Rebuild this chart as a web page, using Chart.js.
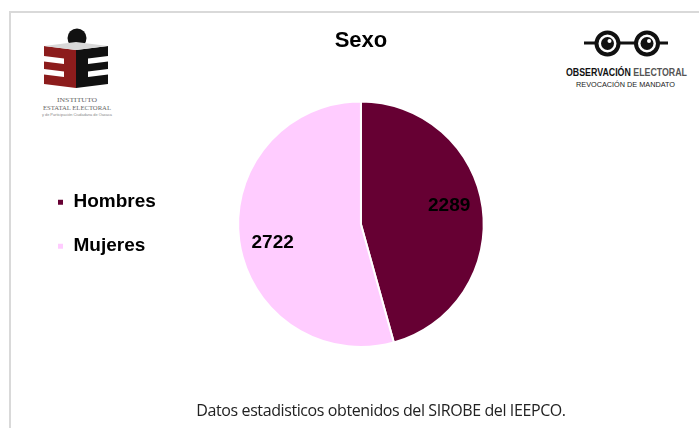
<!DOCTYPE html>
<html>
<head>
<meta charset="utf-8">
<script src="https://cdn.jsdelivr.net/npm/chart.js@4/dist/chart.umd.min.js"></script>
<style>
  html, body { margin:0; padding:0; background:#fff; }
  body { width:699px; height:428px; position:relative; overflow:hidden; font-family: Arial, "Liberation Sans", sans-serif; }
  #frame { position:absolute; left:9px; top:11px; width:720px; height:460px; border-left:2px solid #d9d9d9; border-top:2px solid #d9d9d9; }
  #wrap { position:absolute; left:23px; top:0; width:676px; height:428px; }
  #note { position:absolute; left:0; width:762px; top:399px; text-align:center; font-family:"Open Sans", "Noto Sans", sans-serif; font-size:16px; color:#222; letter-spacing:-0.4px; }
  svg { position:absolute; }
</style>
</head>
<body>
<div id="frame"></div>

<svg id="logoL" style="left:30px;top:20px" width="100" height="100" viewBox="30 20 100 100">
  <circle cx="77" cy="38" r="9.5" fill="#111"/>
  <polygon points="44,46 76,50 76,88 44,84" fill="#8c1c1c"/>
  <polygon points="76,50 108,46 108,84 76,88" fill="#111"/>
  <polygon points="44,46 76,42 108,46 76,50" fill="#d8d8d8"/>
  <polygon points="44,56 64,58.5 64,64 44,61.5" fill="#fff"/>
  <polygon points="44,69 64,71.5 64,77 44,74.5" fill="#fff"/>
  <polygon points="108,56 88,58.5 88,64 108,61.5" fill="#fff"/>
  <polygon points="108,69 88,71.5 88,77 108,74.5" fill="#fff"/>
  <text x="77" y="102" text-anchor="middle" font-family="Liberation Serif, serif" font-size="7" fill="#666" textLength="40" lengthAdjust="spacingAndGlyphs">INSTITUTO</text>
  <text x="77" y="110" text-anchor="middle" font-family="Liberation Serif, serif" font-size="7" fill="#666" textLength="68" lengthAdjust="spacingAndGlyphs">ESTATAL ELECTORAL</text>
  <text x="77" y="116" text-anchor="middle" font-family="Liberation Sans, sans-serif" font-size="3.5" fill="#888" textLength="70" lengthAdjust="spacingAndGlyphs">y de Participación Ciudadana de Oaxaca</text>
</svg>

<svg id="logoR" style="left:560px;top:20px" width="139" height="75" viewBox="560 20 139 75">
  <line x1="584" y1="43" x2="668" y2="43" stroke="#111" stroke-width="3"/>
  <circle cx="607.5" cy="43.5" r="11" fill="#fff" stroke="#111" stroke-width="4"/>
  <circle cx="647" cy="43.5" r="11" fill="#fff" stroke="#111" stroke-width="4"/>
  <circle cx="607.5" cy="43.5" r="6.5" fill="#111"/>
  <circle cx="647" cy="43.5" r="6.5" fill="#111"/>
  <circle cx="609.5" cy="41" r="2" fill="#fff"/>
  <circle cx="649" cy="41" r="2" fill="#fff"/>
  <text x="566" y="76" font-family="Liberation Sans Narrow, Liberation Sans, sans-serif" font-weight="bold" font-size="11" textLength="121" lengthAdjust="spacingAndGlyphs"><tspan fill="#111">OBSERVACIÓN </tspan><tspan fill="#555">ELECTORAL</tspan></text>
  <text x="576" y="87" font-family="Liberation Sans Narrow, Liberation Sans, sans-serif" font-size="8" fill="#222" textLength="99" lengthAdjust="spacingAndGlyphs">REVOCACIÓN DE MANDATO</text>
</svg>

<div id="wrap"><canvas id="c" width="676" height="428"></canvas></div>
<div id="note">Datos estadisticos obtenidos del SIROBE del IEEPCO.</div>

<script>
const title = "Sexo";
const categories = ["Hombres", "Mujeres"];
const values = [2289, 2722];
const colors = ["#660033", "#FFCCFF"];

const sliceLabels = {
  id: 'sliceLabels',
  afterDatasetsDraw(chart) {
    const ctx = chart.ctx;
    const meta = chart.getDatasetMeta(0);
    ctx.save();
    ctx.font = 'bold 19px Arial, "Liberation Sans", sans-serif';
    ctx.fillStyle = '#000';
    ctx.textAlign = 'center';
    ctx.textBaseline = 'middle';
    meta.data.forEach((arc, i) => {
      const p = arc.getProps(['x','y','startAngle','endAngle','outerRadius'], true);
      const mid = (p.startAngle + p.endAngle) / 2 - 0.075;
      const r = p.outerRadius * 0.735;
      ctx.fillText(String(values[i]), p.x + Math.cos(mid) * r, p.y + Math.sin(mid) * r);
    });
    ctx.restore();
  }
};

new Chart(document.getElementById('c'), {
  type: 'pie',
  data: {
    labels: categories,
    datasets: [{ data: values, backgroundColor: colors, borderColor: '#fff', borderWidth: 2, hoverOffset: 0 }]
  },
  plugins: [sliceLabels],
  options: {
    responsive: false,
    animation: false,
    layout: { padding: { left: 9, right: 143, bottom: 80, top: 0 } },
    plugins: {
      tooltip: { enabled: false },
      title: {
        display: true, fullSize: false, text: title, color: '#000',
        font: { family: 'Arial, "Liberation Sans", sans-serif', size: 22, weight: 'bold' },
        padding: { top: 28, bottom: 46 }
      },
      legend: {
        position: 'left', fullSize: false,
        labels: {
          color: '#000',
          boxWidth: 7, boxHeight: 7, padding: 25,
          font: { family: 'Arial, "Liberation Sans", sans-serif', size: 19, weight: 'bold' }
        }
      }
    }
  }
});
</script>
</body>
</html>
